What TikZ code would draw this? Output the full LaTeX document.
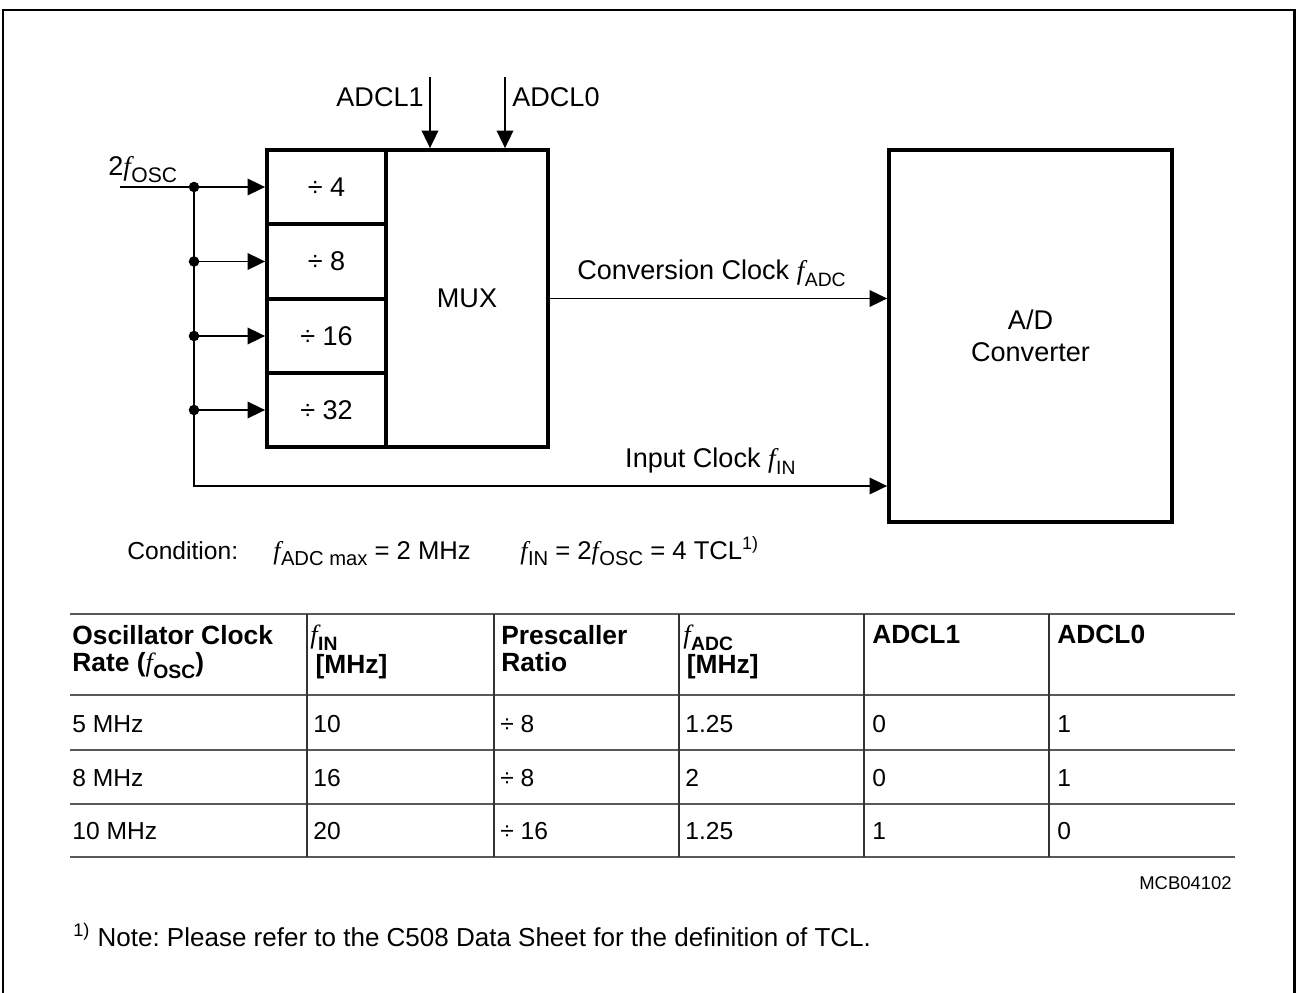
\documentclass[tikz,border=0pt]{standalone}
\usepackage{fontspec}
\setmainfont{Liberation Sans}
\newfontfamily\serifit{Liberation Serif}
\usepackage{tikz}
\usetikzlibrary{arrows.meta,positioning}
\frenchspacing

% italic f with a sans subscript
\newcommand{\fsig}[2][10.5]{{\mdseries\serifit\itshape f}\kern0.3pt\raisebox{-0.5ex}{\fontsize{#1}{#1}\selectfont #2}}

\begin{document}
\begin{tikzpicture}[x=0.02cm, y=-0.02cm, font=\fontsize{15.4}{18.5}\selectfont,
    blk/.style={draw, line width=2.2pt, inner sep=0pt},
    cell/.style={blk, minimum width=2.38cm, minimum height=1.49cm},
    sig/.style={line width=0.8pt, -{Triangle[length=10pt,width=9.5pt]}},
    dot/.style={circle, fill, inner sep=0pt, minimum size=6pt},
    rule/.style={black!65, line width=1.1pt},
    lbl/.style={inner sep=0pt},
    hdr/.style={anchor=north west, align=left, inner sep=0pt,
                font=\fontsize{15}{15.5}\selectfont\bfseries},
    cellt/.style={anchor=base west, inner sep=0pt, font=\fontsize{14}{17}\selectfont}]

    \useasboundingbox (0,0) rectangle (1297,993);
    % frame, open at the bottom
    \draw[line width=1.7pt] (3,993) -- (3,10) -- (1294,10) -- (1294,993);

    % prescaler cells and mux
    \node[cell] (div4)  at (326.5,187)   {÷ 4};
    \node[cell] (div8)  at (326.5,261.5) {÷ 8};
    \node[cell] (div16) at (326.5,336)   {÷ 16};
    \node[cell] (div32) at (326.5,410)   {÷ 32};
    \node[blk, minimum width=3.24cm, minimum height=5.94cm] (mux) at (467,298.5) {MUX};

    % converter
    \node[blk, minimum width=5.66cm, minimum height=7.44cm, align=center]
        (adc) at (1030.5,336) {A/D\\Converter};

    % clock input and bus
    \coordinate (in)  at (120,187);
    \coordinate (bus) at (194,486);
    \node[lbl, anchor=south west] (osc) at (108,183) {2\fsig[12]{OSC}};
    \draw[sig] (in) -- (div4.west);
    \foreach \c in {div8,div16,div32}
        \draw[sig] (bus |- \c.west) -- (\c.west);
    \draw[sig] (bus |- div4.west) -- (bus) -- (bus -| adc.west)
        node[pos=0.745, above=3pt] (inlbl) {Input Clock \fsig[11]{IN}};
    \foreach \c in {div4,div8,div16,div32}
        \node[dot] (j\c) at (bus |- \c.west) {};

    % conversion clock
    \draw[sig] (mux.east) -- (mux.east -| adc.west)
        node[midway, above=3pt, xshift=-4pt] (cvlbl) {Conversion Clock \fsig[11]{ADC}};

    % select lines
    \coordinate (s1) at (430,77);
    \coordinate (s0) at (505,77);
    \draw[sig] (s1) -- (s1 |- mux.north);
    \draw[sig] (s0) -- (s0 |- mux.north);
    \node[lbl, anchor=east] (l1) at (424,97) {ADCL1};
    \node[lbl, anchor=west] (l0) at (512,97) {ADCL0};

    % condition
    \node[cellt] (cond) at (127,559) {Condition:};
    \node[cellt, font=\fontsize{14.6}{17}\selectfont] (c1) at (273,559) {\fsig[11.5]{ADC max} = 2 MHz};
    \node[cellt, font=\fontsize{14.6}{17}\selectfont] (c2) at (520,559) {\fsig[11.5]{IN} = 2\fsig[11.5]{OSC} = 4 TCL\textsuperscript{1)}};

    % table rules
    \foreach \y in {614,695,750,804,857}
        \draw[rule] (70,\y) -- (1235,\y);
    \foreach \x in {307,494,679,864,1049}
        \draw[black!80, line width=0.9pt] (\x,614) -- (\x,857);

    % table header
    \node[hdr] (h1) at (72,625)   {Oscillator Clock\\Rate (\fsig[11]{OSC})};
    \node[hdr] (h2) at (310,625)  {\fsig[11]{IN}\\[1.5pt]\hspace*{3pt}{[MHz]}};
    \node[hdr] (h3) at (501,625)  {Prescaller\\Ratio};
    \node[hdr] (h4) at (683,625)  {\fsig[11]{ADC}\\[1.5pt]\hspace*{2pt}{[MHz]}};
    \node[hdr] (h5) at (872,625)  {ADCL1};
    \node[hdr] (h6) at (1057,625) {ADCL0};

    % table rows
    \foreach \y/\a/\b/\c/\d/\e/\g [count=\r] in
        {732/5 MHz/10/÷ 8/1.25/0/1, 786/8 MHz/16/÷ 8/2/0/1, 839/10 MHz/20/÷ 16/1.25/1/0} {
        \node[cellt] (r\r a) at (72,\y)   {\a};
        \node[cellt] (r\r b) at (313,\y)  {\b};
        \node[cellt] (r\r c) at (500,\y)  {\c};
        \node[cellt] (r\r d) at (685,\y)  {\d};
        \node[cellt] (r\r e) at (872,\y)  {\e};
        \node[cellt] (r\r g) at (1057,\y) {\g};
    }

    \node[cellt, anchor=base east, font=\fontsize{10.5}{12}\selectfont] (code) at (1232,889) {MCB04102};

    % footnote
    \node[cellt, font=\fontsize{14.8}{17}\selectfont] (note) at (73,946)
        {\textsuperscript{1)} Note: Please refer to the C508 Data Sheet for the definition of TCL.};
\end{tikzpicture}
\end{document}
